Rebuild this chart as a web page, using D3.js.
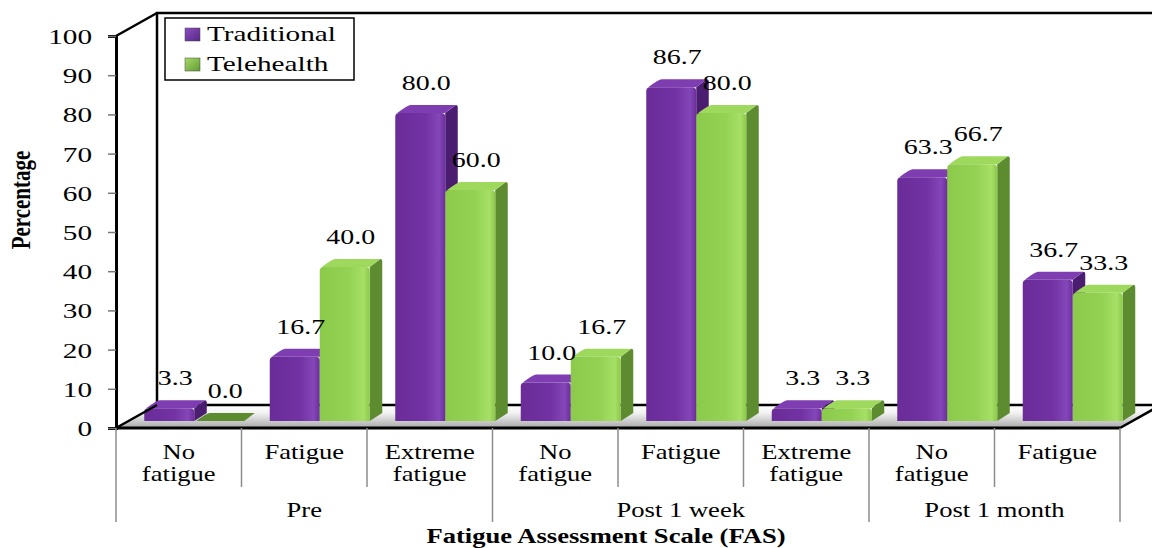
<!DOCTYPE html>
<html><head><meta charset="utf-8">
<script src="https://cdn.jsdelivr.net/npm/d3@7"></script>
<style>body{margin:0;background:#fff}svg{display:block}text{font-family:"Liberation Serif","Times New Roman",serif;fill:#000}</style>
</head><body><svg id="c" width="1152" height="548"></svg>
<script>
const categories = ["No fatigue","Fatigue","Extreme fatigue","No fatigue","Fatigue","Extreme fatigue","No fatigue","Fatigue"];
const groups = ["Pre","Post 1 week","Post 1 month"];
const groupSizes = [3,3,2];
const seriesNames = ["Traditional","Telehealth"];
const traditional = [3.3,16.7,80.0,10.0,86.7,3.3,63.3,36.7];
const telehealth = [0.0,40.0,60.0,16.7,80.0,3.3,66.7,33.3];
const yTicks = [0,10,20,30,40,50,60,70,80,90,100];

const svg = d3.select("#c");
const SX = 1.33;
const L = 116, R = 1120, B = 428, T = 36;
const DX = 41, DY = -23;          // wall depth
const bdx = 15.5, bdy = -7;       // bar front offset into floor
const ddx = 12.5, ddy = -8;       // bar depth

const y = d3.scaleLinear().domain([0,100]).range([B,T]);
const yBar = d3.scaleLinear().domain([0,100]).range([B+bdy, B+bdy-385]);
const x = d3.scaleBand().domain(d3.range(categories.length)).range([L,R]).paddingInner(0).paddingOuter(0);
const xi = d3.scaleBand().domain(seriesNames).range([0,x.bandwidth()]).paddingInner(0).paddingOuter(0.255);

const defs = svg.append("defs");
function lg(id, stops, x2, y2){
  const g = defs.append("linearGradient").attr("id",id).attr("x1",0).attr("y1",0).attr("x2",x2).attr("y2",y2);
  stops.forEach(s=>g.append("stop").attr("offset",s[0]).attr("stop-color",s[1]));
}
lg("floorG",[[0,"#ffffff"],[0.35,"#f2f2f2"],[1,"#a9a9a9"]],0,1);
lg("pFront",[[0,"#6a2c98"],[0.6,"#7232a4"],[0.88,"#8446b8"],[1,"#6b2e9a"]],1,0);
lg("gFront",[[0,"#8cca4c"],[0.6,"#94d254"],[0.88,"#a6e066"],[1,"#8cc84a"]],1,0);
lg("pSwatch",[[0,"#8a52c0"],[1,"#5a2486"]],1,1);
lg("gSwatch",[[0,"#a8dc6a"],[1,"#5f9a2e"]],1,1);
const colors = {
  Traditional:{front:"url(#pFront)", top:"#7f3db2", side:"#4b1d70", sw:"url(#pSwatch)"},
  Telehealth:{front:"url(#gFront)", top:"#9ed95e", side:"#5d8c30", sw:"url(#gSwatch)"}
};

// floor
svg.append("path").attr("d",`M${L},${B}L${R},${B}L${R+DX},${B+DY}L${L+DX},${B+DY}Z`).attr("fill","url(#floorG)");
// back wall lines
const wall = svg.append("g").attr("stroke","#000").attr("fill","none");
wall.append("path").attr("d",`M${L+DX},${B+DY}L${L+DX},${T+DY}L${R+DX},${T+DY}`).attr("stroke-width",2.5);
wall.append("path").attr("d",`M${L+DX},${B+DY}L${R+DX},${B+DY}`).attr("stroke-width",2.5);

// bars
const data = [];
categories.forEach((c,i)=>{
  data.push({i, s:"Traditional", v:traditional[i]});
  data.push({i, s:"Telehealth", v:telehealth[i]});
});
const bars = svg.append("g");
data.forEach(d=>{
  const x0 = x(d.i) + xi(d.s) + bdx, w = xi.bandwidth();
  const yb = yBar(0), yt = yBar(d.v);
  const c = colors[d.s];
  const g = bars.append("g");
  if (d.v > 0) {
    g.append("path").attr("d",`M${x0+w},${yb}L${x0+w+ddx},${yb+ddy}L${x0+w+ddx},${yt+ddy+2}Q${x0+w+ddx},${yt+ddy} ${x0+w+ddx-2},${yt+ddy}L${x0+w},${yt}Z`).attr("fill",c.side);
  }
  g.append("path").attr("d",`M${x0+2},${yt}L${x0+w},${yt}L${x0+w+ddx-2},${yt+ddy}L${x0+ddx+3},${yt+ddy}Q${x0+ddx},${yt+ddy} ${x0+2},${yt}Z`).attr("fill",d.v>0?c.top:c.side);
  if (d.v > 0) {
    const r = Math.min(4,(yb-yt)/2);
    g.append("path").attr("d",`M${x0},${yb}L${x0},${yt+r}Q${x0},${yt} ${x0+r},${yt}L${x0+w-r},${yt}Q${x0+w},${yt} ${x0+w},${yt+r}L${x0+w},${yb}Z`).attr("fill",c.front);
  }
});

// value labels
svg.append("g").selectAll("text").data(data).join("text")
  .attr("text-anchor","middle").attr("font-size",21)
  .attr("transform",d=>`translate(${x(d.i)+xi(d.s)+bdx+xi.bandwidth()/2+6},${yBar(d.v)-23}) scale(${SX},1)`)
  .text(d=>d.v.toFixed(1));

// front edges
svg.append("path").attr("d",`M${L},${T}L${L+DX},${T+DY}`).attr("stroke","#000").attr("stroke-width",2.5).attr("fill","none");
svg.append("path").attr("d",`M${L},${B}L${L+DX},${B+DY}`).attr("stroke","#000").attr("stroke-width",2.5).attr("fill","none");
svg.append("path").attr("d",`M${R},${B}L${R+DX},${B+DY}`).attr("stroke","#000").attr("stroke-width",2.5).attr("fill","none");
svg.append("line").attr("x1",L).attr("x2",R).attr("y1",B).attr("y2",B).attr("stroke","#000").attr("stroke-width",3);

// y axis
const yAxis = d3.axisLeft(y).tickValues(yTicks).tickSize(8).tickPadding(14).tickFormat(d3.format("d"));
const ya = svg.append("g").attr("transform",`translate(${L},0)`).call(yAxis);
ya.select(".domain").attr("stroke","#000").attr("stroke-width",3);
ya.selectAll(".tick line").attr("stroke","#777").attr("stroke-width",1.5);
ya.selectAll(".tick text").attr("font-family","'Liberation Serif',serif").attr("font-size",22).attr("fill","#000")
  .attr("dy","0.34em").attr("transform",`scale(${SX},1)`).attr("x",(-24)/SX);

// category axis
const cat = svg.append("g");
const grey = "#8c8c8c";
let bounds = [0]; groupSizes.reduce((a,b)=>{bounds.push(a+b); return a+b;},0);
for (let i=0;i<=categories.length;i++){
  const xx = i<categories.length ? x(i) : R;
  const long = bounds.includes(i);
  cat.append("line").attr("x1",xx).attr("x2",xx).attr("y1",B).attr("y2",long?522:487).attr("stroke",grey).attr("stroke-width",1.5);
}
categories.forEach((c,i)=>{
  const words = c.split(" ");
  const t = cat.append("text").attr("text-anchor","middle").attr("font-size",20)
    .attr("transform",`translate(${x(i)+x.bandwidth()/2},459) scale(${SX},1)`);
  words.forEach((w,k)=>t.append("tspan").attr("x",0).attr("y",k*22).text(w));
});
groups.forEach((g,k)=>{
  const a = x(bounds[k]), b = bounds[k+1] < categories.length ? x(bounds[k+1]) : R;
  cat.append("text").attr("text-anchor","middle").attr("font-size",20)
    .attr("transform",`translate(${(a+b)/2},517) scale(${SX},1)`).text(g);
});

// titles
svg.append("text").attr("text-anchor","middle").attr("font-size",20).attr("font-weight","bold")
  .attr("transform",`translate(606,543) scale(${SX},1)`).text("Fatigue Assessment Scale (FAS)");
svg.append("text").attr("text-anchor","middle").attr("font-size",21).attr("font-weight","bold")
  .attr("transform",`translate(30,200) scale(${SX},1) rotate(-90)`).text("Percentage");

// legend
const lgd = svg.append("g");
lgd.append("rect").attr("x",165).attr("y",18).attr("width",189).attr("height",62).attr("fill","#fff").attr("stroke","#000").attr("stroke-width",1.5);
seriesNames.forEach((s,k)=>{
  lgd.append("rect").attr("x",185).attr("y",28+k*30).attr("width",15).attr("height",13).attr("fill",colors[s].sw).attr("stroke","#444").attr("stroke-width",0.5);
  lgd.append("text").attr("font-size",22).attr("transform",`translate(207,${41+k*30}) scale(${SX},1)`).text(s);
});
</script></body></html>
